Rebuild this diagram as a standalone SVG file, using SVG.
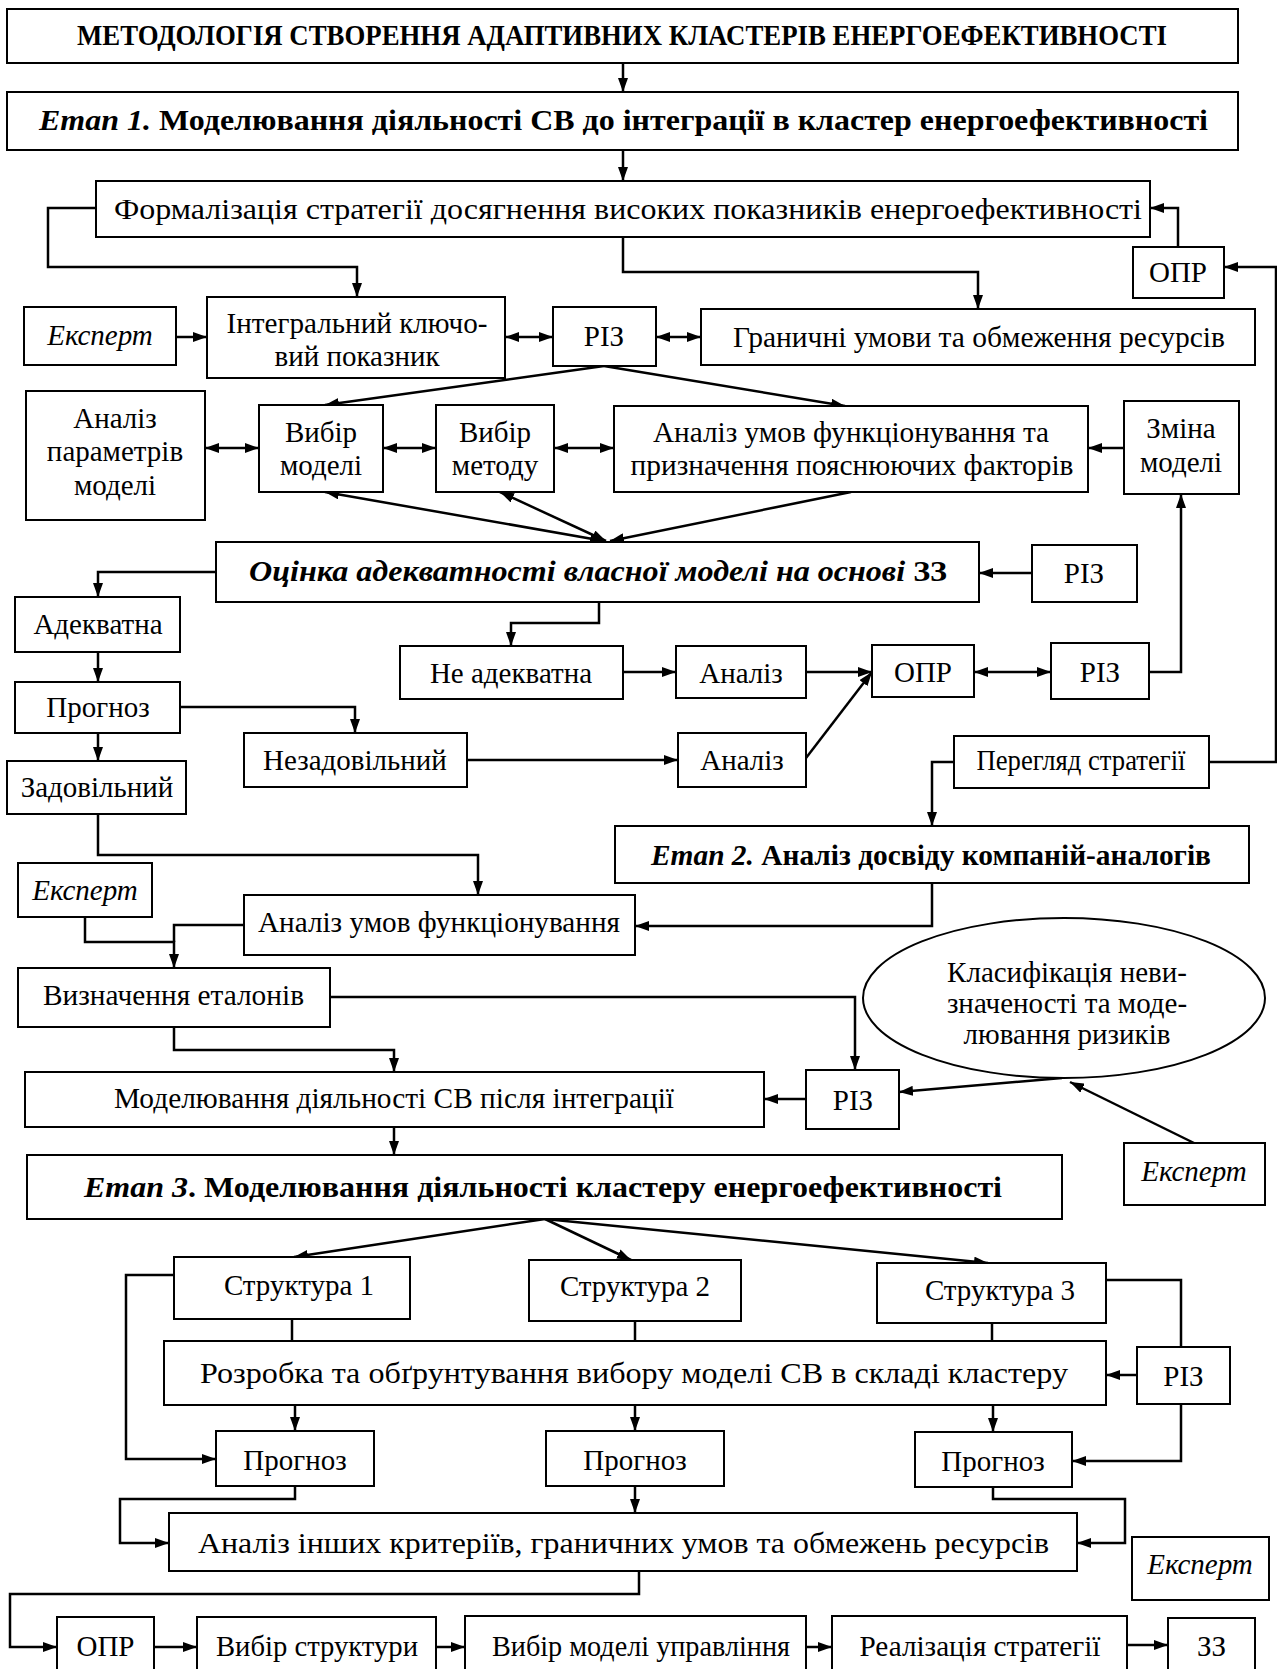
<svg xmlns="http://www.w3.org/2000/svg" width="1277" height="1669" viewBox="0 0 1277 1669">
<style>
.b{fill:#fff;stroke:#000;stroke-width:2}
.t{font-family:"Liberation Serif","Times New Roman",serif;font-size:29px;text-anchor:middle;fill:#000}
.bd{font-weight:bold}
.it{font-style:italic}
.c{fill:none;stroke:#000;stroke-width:2.5}
.a{marker-end:url(#ah)}
.d{marker-start:url(#ah);marker-end:url(#ah)}
</style>
<defs>
<marker id="ah" viewBox="0 0 14 10" refX="14" refY="5" markerWidth="14" markerHeight="10" markerUnits="userSpaceOnUse" orient="auto-start-reverse"><path d="M0,0 L14,5 L0,10 z" fill="#000"/></marker>
</defs>
<rect width="1277" height="1669" fill="#fff"/>
<g id="connectors">
<path class="c a" d="M623,63 V92"/>
<path class="c a" d="M623,150 V181"/>
<path class="c a" d="M96,208 H48 V267 H357 V297"/>
<path class="c a" d="M623,237 V272 H978 V309"/>
<path class="c a" d="M1178,247 V208 H1150"/>
<path class="c a" d="M1209,762 H1276 V267 H1224"/>
<path class="c a" d="M176,337 H207"/>
<path class="c d" d="M505,337 H553"/>
<path class="c d" d="M656,337 H701"/>
<path class="c a" d="M604,366 L325,405"/>
<path class="c a" d="M604,366 L845,406"/>
<path class="c d" d="M205,448 H259"/>
<path class="c d" d="M383,448 H436"/>
<path class="c d" d="M554,448 H614"/>
<path class="c a" d="M1124,448 H1088"/>
<path class="c a" d="M1149,672 H1181 V494"/>
<path class="c d" d="M325,492 L604,541"/>
<path class="c d" d="M500,492 L606,541"/>
<path class="c a" d="M851,492 L610,541"/>
<path class="c a" d="M1032,573 H979"/>
<path class="c a" d="M216,572 H98 V597"/>
<path class="c a" d="M98,652 V682"/>
<path class="c a" d="M98,733 V761"/>
<path class="c a" d="M180,707 H355 V733"/>
<path class="c a" d="M467,760 H678"/>
<path class="c a" d="M806,758 L872,672"/>
<path class="c a" d="M599,602 V623 H511 V646"/>
<path class="c a" d="M623,672 H676"/>
<path class="c a" d="M806,672 H872"/>
<path class="c d" d="M974,672 H1051"/>
<path class="c a" d="M954,762 H932 V826"/>
<path class="c a" d="M932,883 V926 H635"/>
<path class="c a" d="M98,814 V855 H478 V895"/>
<path class="c a" d="M85,917 V942 H174 V968"/>
<path class="c" d="M244,925 H174 V942"/>
<path class="c a" d="M330,997 H855 V1070"/>
<path class="c a" d="M174,1027 V1050 H394 V1072"/>
<path class="c a" d="M806,1099 H764"/>
<path class="c a" d="M1062,1078 L899,1092"/>
<path class="c a" d="M1194,1143 L1070,1082"/>
<path class="c a" d="M394,1127 V1155"/>
<path class="c a" d="M545,1219 L294,1257"/>
<path class="c a" d="M545,1219 L631,1260"/>
<path class="c a" d="M545,1219 L988,1263"/>
<path class="c" d="M292,1319 V1341"/>
<path class="c" d="M635,1321 V1341"/>
<path class="c" d="M992,1323 V1341"/>
<path class="c a" d="M295,1405 V1431"/>
<path class="c a" d="M635,1405 V1431"/>
<path class="c a" d="M993,1405 V1432"/>
<path class="c a" d="M174,1275 H126 V1459 H216"/>
<path class="c a" d="M1106,1280 H1181 V1461 H1072"/>
<path class="c a" d="M1137,1375 H1106"/>
<path class="c a" d="M295,1486 V1499 H120 V1543 H169"/>
<path class="c a" d="M635,1486 V1513"/>
<path class="c a" d="M993,1487 V1499 H1125 V1543 H1077"/>
<path class="c a" d="M639,1571 V1594 H10 V1647 H57"/>
<path class="c a" d="M154,1647 H197"/>
<path class="c a" d="M436,1647 H465"/>
<path class="c a" d="M806,1647 H832"/>
<path class="c a" d="M1127,1645 H1168"/>
</g>
<g id="title"><rect class="b" x="7" y="9" width="1231" height="54"/><text class="t bd" x="622" y="45" font-size="25" textLength="1090" lengthAdjust="spacingAndGlyphs">МЕТОДОЛОГІЯ СТВОРЕННЯ АДАПТИВНИХ КЛАСТЕРІВ ЕНЕРГОЕФЕКТИВНОСТІ</text></g>
<g id="etap1"><rect class="b" x="7" y="92" width="1231" height="58"/><text class="t bd" x="623.5" y="130" textLength="1169" lengthAdjust="spacingAndGlyphs"><tspan class="it">Етап 1.</tspan> Моделювання діяльності СВ до інтеграції в кластер енергоефективності</text></g>
<g id="formal"><rect class="b" x="96" y="181" width="1054" height="56"/><text class="t" x="628" y="219" textLength="1028" lengthAdjust="spacingAndGlyphs">Формалізація стратегії досягнення високих показників енергоефективності</text></g>
<g id="opr1"><rect class="b" x="1133" y="247" width="91" height="51"/><text class="t" x="1178" y="282">ОПР</text></g>
<g id="expert1"><rect class="b" x="24" y="307" width="152" height="58"/><text class="t it" x="100" y="345">Експерт</text></g>
<g id="integral"><rect class="b" x="207" y="297" width="298" height="81"/><text class="t" x="357" y="333" textLength="261" lengthAdjust="spacingAndGlyphs">Інтегральний ключо-</text><text class="t" x="357" y="366">вий показник</text></g>
<g id="riz1"><rect class="b" x="553" y="307" width="103" height="59"/><text class="t" x="604" y="346">РІЗ</text></g>
<g id="granychni"><rect class="b" x="701" y="309" width="554" height="56"/><text class="t" x="979" y="347" textLength="492" lengthAdjust="spacingAndGlyphs">Граничні умови та обмеження ресурсів</text></g>
<g id="analiz-param"><rect class="b" x="26" y="391" width="179" height="129"/><text class="t" x="115" y="428">Аналіз</text><text class="t" x="115" y="461">параметрів</text><text class="t" x="115" y="495">моделі</text></g>
<g id="vybir-modeli"><rect class="b" x="259" y="405" width="124" height="87"/><text class="t" x="321" y="442">Вибір</text><text class="t" x="321" y="475">моделі</text></g>
<g id="vybir-metodu"><rect class="b" x="436" y="405" width="118" height="87"/><text class="t" x="495" y="442">Вибір</text><text class="t" x="495" y="475">методу</text></g>
<g id="analiz-umov"><rect class="b" x="614" y="406" width="474" height="86"/><text class="t" x="851" y="442" textLength="396" lengthAdjust="spacingAndGlyphs">Аналіз умов функціонування та</text><text class="t" x="852" y="475" textLength="443" lengthAdjust="spacingAndGlyphs">призначення пояснюючих факторів</text></g>
<g id="zmina"><rect class="b" x="1124" y="401" width="115" height="93"/><text class="t" x="1181" y="438">Зміна</text><text class="t" x="1181" y="472">моделі</text></g>
<g id="otsinka"><rect class="b" x="216" y="542" width="763" height="60"/><text class="t bd" x="598" y="581" textLength="698" lengthAdjust="spacingAndGlyphs"><tspan class="it">Оцінка адекватності власної моделі на основі</tspan> ЗЗ</text></g>
<g id="riz2"><rect class="b" x="1032" y="545" width="105" height="57"/><text class="t" x="1084" y="583">РІЗ</text></g>
<g id="adekvatna"><rect class="b" x="15" y="597" width="165" height="55"/><text class="t" x="98" y="634">Адекватна</text></g>
<g id="prognoz0"><rect class="b" x="15" y="682" width="165" height="51"/><text class="t" x="98" y="717">Прогноз</text></g>
<g id="zadovilnyi"><rect class="b" x="7" y="761" width="179" height="53"/><text class="t" x="97" y="797">Задовільний</text></g>
<g id="nezadovilnyi"><rect class="b" x="244" y="733" width="223" height="54"/><text class="t" x="355" y="770">Незадовільний</text></g>
<g id="analiz2"><rect class="b" x="678" y="733" width="128" height="54"/><text class="t" x="742" y="770">Аналіз</text></g>
<g id="ne-adekvatna"><rect class="b" x="400" y="646" width="223" height="53"/><text class="t" x="511" y="683">Не адекватна</text></g>
<g id="analiz1"><rect class="b" x="676" y="646" width="130" height="52"/><text class="t" x="741" y="683">Аналіз</text></g>
<g id="opr2"><rect class="b" x="872" y="645" width="102" height="52"/><text class="t" x="923" y="682">ОПР</text></g>
<g id="riz3"><rect class="b" x="1051" y="643" width="98" height="56"/><text class="t" x="1100" y="682">РІЗ</text></g>
<g id="perehliad"><rect class="b" x="954" y="736" width="255" height="52"/><text class="t" x="1081" y="770" font-size="25" textLength="209" lengthAdjust="spacingAndGlyphs">Перегляд стратегії</text></g>
<g id="etap2"><rect class="b" x="615" y="826" width="634" height="57"/><text class="t bd" x="931" y="865" font-size="27" textLength="560" lengthAdjust="spacingAndGlyphs"><tspan class="it">Етап 2.</tspan> Аналіз досвіду компаній-аналогів</text></g>
<g id="analiz-umov-f"><rect class="b" x="244" y="895" width="391" height="60"/><text class="t" x="439" y="932" textLength="362" lengthAdjust="spacingAndGlyphs">Аналіз умов функціонування</text></g>
<g id="expert2"><rect class="b" x="18" y="863" width="134" height="54"/><text class="t it" x="85" y="900">Експерт</text></g>
<g id="vyznachennia"><rect class="b" x="18" y="968" width="312" height="59"/><text class="t" x="173.5" y="1005" textLength="261" lengthAdjust="spacingAndGlyphs">Визначення еталонів</text></g>
<g id="modeluvannia-pislia"><rect class="b" x="25" y="1072" width="739" height="55"/><text class="t" x="394" y="1108" textLength="560" lengthAdjust="spacingAndGlyphs">Моделювання діяльності СВ після інтеграції</text></g>
<g id="riz4"><rect class="b" x="806" y="1070" width="93" height="59"/><text class="t" x="853" y="1110">РІЗ</text></g>
<g id="klasyfikatsiia"><ellipse class="b" cx="1064" cy="998" rx="201" ry="80"/><text class="t" x="1067" y="982" font-size="28">Класифікація неви-</text><text class="t" x="1067" y="1013" font-size="28">значеності та моде-</text><text class="t" x="1067" y="1044" font-size="28">лювання ризиків</text></g>
<g id="expert3"><rect class="b" x="1124" y="1143" width="141" height="62"/><text class="t it" x="1194" y="1181">Експерт</text></g>
<g id="etap3"><rect class="b" x="27" y="1155" width="1035" height="64"/><text class="t bd" x="543" y="1197" textLength="918" lengthAdjust="spacingAndGlyphs"><tspan class="it">Етап 3</tspan>. Моделювання діяльності кластеру енергоефективності</text></g>
<g id="struktura1"><rect class="b" x="174" y="1257" width="236" height="62"/><text class="t" x="299" y="1295">Структура 1</text></g>
<g id="struktura2"><rect class="b" x="529" y="1260" width="212" height="61"/><text class="t" x="635" y="1296">Структура 2</text></g>
<g id="struktura3"><rect class="b" x="877" y="1263" width="229" height="60"/><text class="t" x="1000" y="1300">Структура 3</text></g>
<g id="rozrobka"><rect class="b" x="164" y="1341" width="942" height="64"/><text class="t" x="634" y="1383" textLength="868" lengthAdjust="spacingAndGlyphs">Розробка та обґрунтування вибору моделі СВ в складі кластеру</text></g>
<g id="riz5"><rect class="b" x="1137" y="1347" width="93" height="57"/><text class="t" x="1183.5" y="1386">РІЗ</text></g>
<g id="prognoz1"><rect class="b" x="216" y="1431" width="158" height="55"/><text class="t" x="295" y="1470">Прогноз</text></g>
<g id="prognoz2"><rect class="b" x="546" y="1431" width="178" height="55"/><text class="t" x="635" y="1470">Прогноз</text></g>
<g id="prognoz3"><rect class="b" x="915" y="1432" width="157" height="55"/><text class="t" x="993" y="1471">Прогноз</text></g>
<g id="analiz-inshykh"><rect class="b" x="169" y="1513" width="908" height="58"/><text class="t" x="623.5" y="1553" textLength="851" lengthAdjust="spacingAndGlyphs">Аналіз інших критеріїв, граничних умов та обмежень ресурсів</text></g>
<g id="expert4"><rect class="b" x="1132" y="1537" width="137" height="63"/><text class="t it" x="1200" y="1574">Експерт</text></g>
<g id="opr3"><rect class="b" x="57" y="1617" width="97" height="70"/><text class="t" x="105.5" y="1656">ОПР</text></g>
<g id="vybir-struktury"><rect class="b" x="197" y="1617" width="239" height="70"/><text class="t" x="317" y="1656" textLength="202" lengthAdjust="spacingAndGlyphs">Вибір структури</text></g>
<g id="vybir-modeli-upr"><rect class="b" x="465" y="1616" width="341" height="70"/><text class="t" x="641" y="1656" textLength="298" lengthAdjust="spacingAndGlyphs">Вибір моделі управління</text></g>
<g id="realizatsiia"><rect class="b" x="832" y="1616" width="295" height="70"/><text class="t" x="980" y="1656" textLength="241" lengthAdjust="spacingAndGlyphs">Реалізація стратегії</text></g>
<g id="zz"><rect class="b" x="1168" y="1618" width="87" height="70"/><text class="t" x="1211.5" y="1656">ЗЗ</text></g>
</svg>
